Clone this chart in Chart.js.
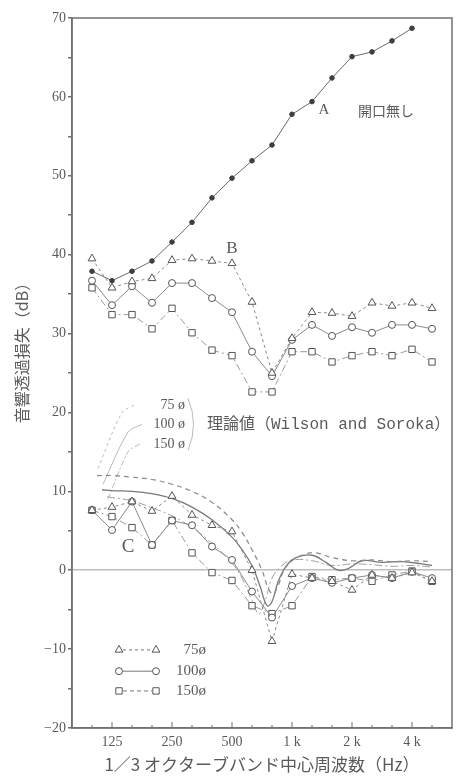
<!DOCTYPE html>
<html>
<head>
<meta charset="utf-8">
<script src="https://cdn.jsdelivr.net/npm/chart.js@4.4.0/dist/chart.umd.min.js"></script>
<style>
    html, body { margin: 0; padding: 0; background: #fff; }
    #wrap { width: 458px; height: 777px; }
</style>
</head>
<body>
<div id="wrap"><canvas id="chart" width="458" height="777"></canvas></div>
<script>
// 1/3 オクターブバンド (x = band index)
const bands = ['100', '125', '160', '200', '250', '315', '400', '500', '630', '800', '1k', '1.25k', '1.6k', '2k', '2.5k', '3.15k', '4k', '5k'];
const xTickLabels = { 1: '125', 4: '250', 7: '500', 10: '1 k', 13: '2 k', 16: '4 k' };
const yTicks = [70, 60, 50, 40, 30, 20, 10, 0, -10, -20];

// A 開口無し (100 Hz – 4 kHz)
const curveA = [37.9, 36.7, 37.9, 39.2, 41.6, 44.1, 47.2, 49.7, 51.9, 53.9, 57.8, 59.4, 62.4, 65.1, 65.7, 67.1, 68.7];

// B 開口あり
const b75 = [39.5, 35.8, 36.6, 37.0, 39.3, 39.5, 39.2, 38.9, 34.0, 25.0, 29.4, 32.7, 32.6, 32.2, 33.9, 33.5, 33.9, 33.2];
const b100 = [36.7, 33.6, 36.0, 33.9, 36.4, 36.4, 34.5, 32.7, 27.7, 24.6, 29.2, 31.1, 29.7, 30.8, 30.1, 31.1, 31.1, 30.6];
const b150 = [35.8, 32.4, 32.4, 30.6, 33.2, 30.1, 27.9, 27.2, 22.6, 22.6, 27.7, 27.7, 26.4, 27.2, 27.7, 27.2, 28.0, 26.4];

// C 差 (実測)
const c75 = [7.6, 8.0, 8.7, 7.5, 9.4, 7.0, 5.7, 4.9, 0.0, -9.0, -0.5, -1.0, -1.4, -2.5, -0.6, -1.0, -0.3, -1.4];
const c100 = [7.6, 5.1, 8.7, 3.2, 6.3, 5.7, 3.0, 1.3, -2.7, -6.0, -2.0, -1.0, -1.6, -1.0, -0.6, -1.0, -0.2, -1.0];
const c150 = [7.6, 6.8, 5.4, 3.2, 6.3, 2.2, -0.3, -1.3, -4.5, -5.5, -4.5, -0.8, -1.2, -1.0, -1.4, -0.6, -0.1, -1.4];

// 理論値 (Wilson and Soroka)
const t75x = [0.25, 1, 2, 3, 4, 5, 6, 7, 7.5, 8, 8.5, 8.8, 9.05, 9.3, 9.6, 10, 10.6, 11.2, 12, 13, 14, 15, 16, 17];
const t75y = [12.0, 12.0, 11.8, 11.5, 10.9, 10.0, 8.6, 6.4, 4.8, 2.6, 0.0, -2.2, -3.0, -2.0, 0.0, 1.2, 2.0, 2.2, 1.6, 1.2, 1.3, 1.1, 1.2, 1.1];
const t100x = [0.5, 1, 2, 3, 4, 5, 6, 7, 7.5, 8, 8.4, 8.75, 9, 9.3, 9.7, 10.2, 11, 11.7, 12.3, 12.8, 13.5, 14.5, 15.5, 16.5, 17];
const t100y = [10.2, 10.1, 10.0, 9.7, 9.1, 8.0, 6.4, 4.2, 2.6, 0.6, -2.0, -4.5, -4.0, -1.5, 0.5, 1.6, 1.9, 1.0, 0.0, 0.2, 1.2, 1.0, 1.1, 0.8, 0.6];
const t150x = [0.75, 1, 2, 3, 4, 5, 6, 7, 7.5, 8, 8.35, 8.7, 9, 9.5, 10, 11, 12, 13, 14, 15, 16, 17];
const t150y = [9.3, 9.2, 8.8, 7.9, 6.9, 5.4, 3.4, 0.9, -1.0, -3.8, -5.5, -3.5, -1.0, 0.6, 1.3, 1.2, 0.6, 0.8, 0.7, 0.5, 0.6, 0.4];

// 引出線 (label → curve start)
const lead75x = [2.1, 1.5, 0.25], lead75y = [20.9, 20.0, 12.6];
const lead100x = [2.5, 1.8, 0.55], lead100y = [18.5, 17.5, 10.9];
const lead150x = [2.4, 1.8, 0.8], lead150y = [16.0, 15.0, 9.0];

const SERIF = '"Liberation Serif", "DejaVu Serif", serif';
const JP = '"Noto Sans CJK JP", sans-serif';
const INK = '#5a5a5a';

const pts = (xs, ys) => xs.map((x, i) => ({ x: x, y: ys[i] }));
const bandPts = vals => vals.map((v, i) => ({ x: i, y: v }));

function lineSet(data, opt) {
    return Object.assign({
        data: data,
        borderColor: '#8a8a8a',
        borderWidth: 1,
        pointRadius: 0,
        fill: false,
        tension: 0,
    }, opt);
}

function marker(style, r) {
    return {
        pointStyle: style,
        pointRadius: r,
        pointBackgroundColor: '#fff',
        pointBorderColor: '#555',
        pointBorderWidth: 1,
    };
}

const DASH75 = [3, 3];
const DASH150 = [7, 3, 2, 3];

const datasets = [
    lineSet(bandPts(curveA), { borderColor: '#6a6a6a', pointStyle: 'circle', pointRadius: 2.3, pointBackgroundColor: '#3e3e3e', pointBorderColor: '#3e3e3e' }),
    lineSet(bandPts(b75), Object.assign({ borderDash: DASH75 }, marker('triangle', 4.5))),
    lineSet(bandPts(b100), marker('circle', 3.5)),
    lineSet(bandPts(b150), Object.assign({ borderDash: DASH150, borderColor: '#9a9a9a' }, marker('rect', 4.5))),
    lineSet(bandPts(c75), Object.assign({ borderDash: DASH75 }, marker('triangle', 4.5))),
    lineSet(bandPts(c100), marker('circle', 3.5)),
    lineSet(bandPts(c150), Object.assign({ borderDash: DASH150, borderColor: '#9a9a9a' }, marker('rect', 4.5))),
    lineSet(pts(t75x, t75y), { borderDash: [5, 4], borderColor: '#8a8a8a', borderWidth: 1.2, tension: 0.4 }),
    lineSet(pts(t100x, t100y), { borderColor: '#7a7a7a', borderWidth: 1.3, tension: 0.4 }),
    lineSet(pts(t150x, t150y), { borderDash: [8, 3, 2, 3], borderColor: '#a0a0a0', borderWidth: 1, tension: 0.4 }),
    lineSet(pts(lead75x, lead75y), { borderDash: [3, 3], borderColor: '#aaa', borderWidth: 0.8, tension: 0.3 }),
    lineSet(pts(lead100x, lead100y), { borderColor: '#aaa', borderWidth: 0.8, tension: 0.3 }),
    lineSet(pts(lead150x, lead150y), { borderDash: [6, 2, 2, 2], borderColor: '#aaa', borderWidth: 0.8, tension: 0.3 }),
];

// 図中の文字
const notes = [
    { text: 'A', x: 11.6, y: 58.3, font: '15px ' + SERIF },
    { text: '開口無し', x: 14.7, y: 58.3, font: '14px ' + JP },
    { text: 'B', x: 7.0, y: 40.8, font: '17px ' + SERIF },
    { text: 'C', x: 1.8, y: 3.0, font: '19px ' + SERIF },
    { text: '75 ø', x: 4.65, y: 20.9, font: '14px ' + SERIF, align: 'right' },
    { text: '100 ø', x: 4.65, y: 18.5, font: '14px ' + SERIF, align: 'right' },
    { text: '150 ø', x: 4.65, y: 16.0, font: '14px ' + SERIF, align: 'right' },
    { text: '理論値（Wilson and Soroka）', x: 5.75, y: 18.5, font: '16px "Liberation Mono", "Noto Sans CJK JP", monospace', align: 'left' },
];

// 下の凡例
const legendRows = [
    { label: '75ø', style: 'triangle', r: 4.5, dash: DASH75, y: -10.1 },
    { label: '100ø', style: 'circle', r: 3.5, dash: [], y: -12.8 },
    { label: '150ø', style: 'rect', r: 4.5, dash: [4, 3], y: -15.3 },
];

const decor = {
    id: 'decor',
    afterDraw(chart) {
        const { ctx, chartArea: a, scales: { x, y } } = chart;
        ctx.save();

        // frame
        ctx.strokeStyle = '#707070';
        ctx.lineWidth = 1.5;
        ctx.strokeRect(a.left, a.top, a.right - a.left, a.bottom - a.top);

        // x ticks inside
        ctx.lineWidth = 1;
        bands.forEach((b, i) => {
            const px = x.getPixelForValue(i);
            const len = xTickLabels[i] ? 6 : 3;
            ctx.beginPath();
            ctx.moveTo(px, a.bottom);
            ctx.lineTo(px, a.bottom - len);
            ctx.stroke();
        });

        // notes
        ctx.fillStyle = INK;
        ctx.textBaseline = 'middle';
        notes.forEach(n => {
            ctx.font = n.font;
            ctx.textAlign = n.align || 'center';
            ctx.fillText(n.text, x.getPixelForValue(n.x), y.getPixelForValue(n.y));
        });

        // bracket after labels
        ctx.strokeStyle = '#aaa';
        ctx.lineWidth = 0.8;
        ctx.beginPath();
        ctx.moveTo(x.getPixelForValue(4.8), y.getPixelForValue(21.8));
        ctx.quadraticCurveTo(x.getPixelForValue(5.35), y.getPixelForValue(18.5), x.getPixelForValue(4.8), y.getPixelForValue(15.2));
        ctx.stroke();

        // legend
        legendRows.forEach(r => {
            const py = y.getPixelForValue(r.y);
            const x1 = x.getPixelForValue(1.35), x2 = x.getPixelForValue(3.2);
            ctx.strokeStyle = '#777';
            ctx.lineWidth = 1;
            ctx.setLineDash(r.dash);
            ctx.beginPath();
            ctx.moveTo(x1 + 4, py);
            ctx.lineTo(x2 - 4, py);
            ctx.stroke();
            ctx.setLineDash([]);
            ctx.strokeStyle = '#555';
            ctx.fillStyle = '#fff';
            [x1, x2].forEach(px => Chart.helpers.drawPoint(ctx, { pointStyle: r.style, radius: r.r, borderWidth: 1, rotation: 0 }, px, py));
            ctx.fillStyle = INK;
            ctx.font = '15px ' + SERIF;
            ctx.textAlign = 'right';
            ctx.fillText(r.label, x.getPixelForValue(5.7), py);
        });

        // y title (vertical)
        ctx.translate(22, 349);
        ctx.rotate(-Math.PI / 2);
        ctx.font = '16px ' + JP;
        ctx.textAlign = 'center';
        ctx.fillStyle = INK;
        ctx.fillText('音響透過損失（dB）', 0, 0);
        ctx.restore();
    }
};

new Chart(document.getElementById('chart'), {
    type: 'line',
    data: { datasets: datasets },
    options: {
        responsive: false,
        animation: false,
        devicePixelRatio: 1,
        layout: { padding: { top: 18, right: 5, left: 0, bottom: 0 } },
        plugins: { legend: { display: false }, tooltip: { enabled: false } },
        scales: {
            x: {
                type: 'linear',
                min: -1,
                max: 18,
                afterFit: s => { s.height = 49; },
                grid: { drawOnChartArea: false, drawTicks: false },
                border: { color: '#707070', width: 1.5 },
                ticks: {
                    stepSize: 1,
                    autoSkip: false,
                    maxRotation: 0,
                    padding: 6,
                    color: INK,
                    font: { family: SERIF, size: 14 },
                    callback: v => xTickLabels[v] || ''
                },
                title: {
                    display: true,
                    text: '1／3 オクターブバンド中心周波数（Hz）',
                    color: INK,
                    font: { family: JP, size: 17 },
                    padding: { top: 0, bottom: 2 }
                }
            },
            y: {
                min: -20,
                max: 70,
                afterFit: s => { s.width = 72; },
                grid: {
                    color: c => c.tick && c.tick.value === 0 ? '#bdbdbd' : 'rgba(0,0,0,0)',
                    lineWidth: 1.5,
                    tickColor: '#707070',
                    tickLength: 4,
                    drawTicks: true
                },
                border: { color: '#707070', width: 1.5 },
                ticks: {
                    stepSize: 5,
                    padding: 2,
                    color: INK,
                    font: { family: SERIF, size: 14 },
                    callback: v => yTicks.includes(v) ? (v < 0 ? '−' + Math.abs(v) : String(v)) : ''
                }
            }
        }
    },
    plugins: [decor]
});
</script>
</body>
</html>
